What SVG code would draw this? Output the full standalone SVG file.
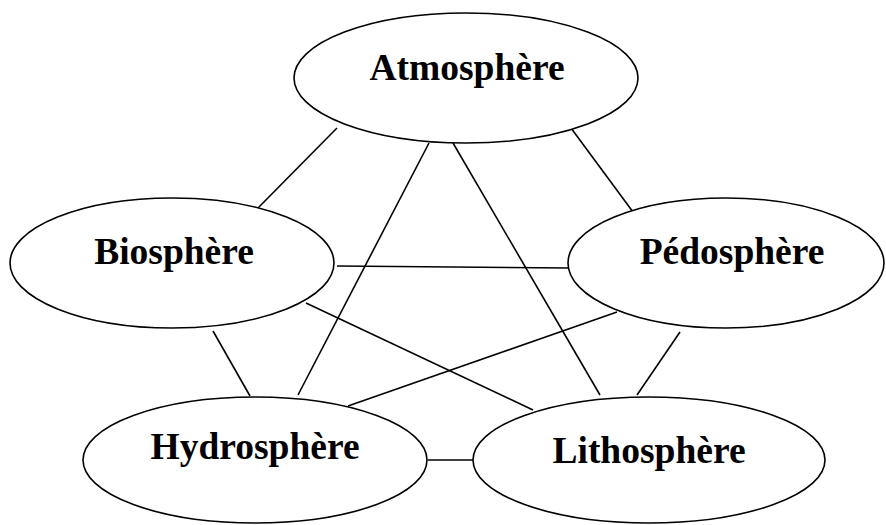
<svg xmlns="http://www.w3.org/2000/svg" width="886" height="525" viewBox="0 0 886 525">
  <style>
    .node ellipse { fill: #ffffff; stroke: #000000; stroke-width: 1.6; }
    .node text { font-family: "Liberation Serif", "Times New Roman", serif; font-weight: bold; font-size: 37.5px; fill: #000000; text-anchor: middle; }
    .links line { stroke: #000000; stroke-width: 1.6; }
  </style>
  <rect width="886" height="525" fill="#ffffff"/>

  <!-- links between the spheres -->
  <g id="connectors" class="links">
    <line x1="337" y1="128" x2="258" y2="208"/>
    <line x1="429" y1="143" x2="298" y2="395"/>
    <line x1="453" y1="143" x2="600" y2="395"/>
    <line x1="571" y1="128" x2="633" y2="212"/>
    <line x1="337" y1="266" x2="569" y2="268"/>
    <line x1="306" y1="303" x2="533" y2="410"/>
    <line x1="617" y1="312" x2="348" y2="406"/>
    <line x1="213" y1="331" x2="250" y2="396"/>
    <line x1="680" y1="332" x2="637" y2="395"/>
    <line x1="428" y1="460" x2="473" y2="460"/>
  </g>

  <g id="atmosphere" class="node">
    <ellipse cx="466" cy="78" rx="172" ry="65"/>
    <text x="467" y="80">Atmosphère</text>
  </g>
  <g id="biosphere" class="node">
    <ellipse cx="172" cy="263" rx="162" ry="65"/>
    <text x="174" y="264">Biosphère</text>
  </g>
  <g id="pedosphere" class="node">
    <ellipse cx="726" cy="263" rx="158" ry="65"/>
    <text x="732" y="264">Pédosphère</text>
  </g>
  <g id="hydrosphere" class="node">
    <ellipse cx="255" cy="460" rx="172" ry="63"/>
    <text x="255" y="459">Hydrosphère</text>
  </g>
  <g id="lithosphere" class="node">
    <ellipse cx="649" cy="460" rx="176" ry="63"/>
    <text x="649" y="463">Lithosphère</text>
  </g>
</svg>
